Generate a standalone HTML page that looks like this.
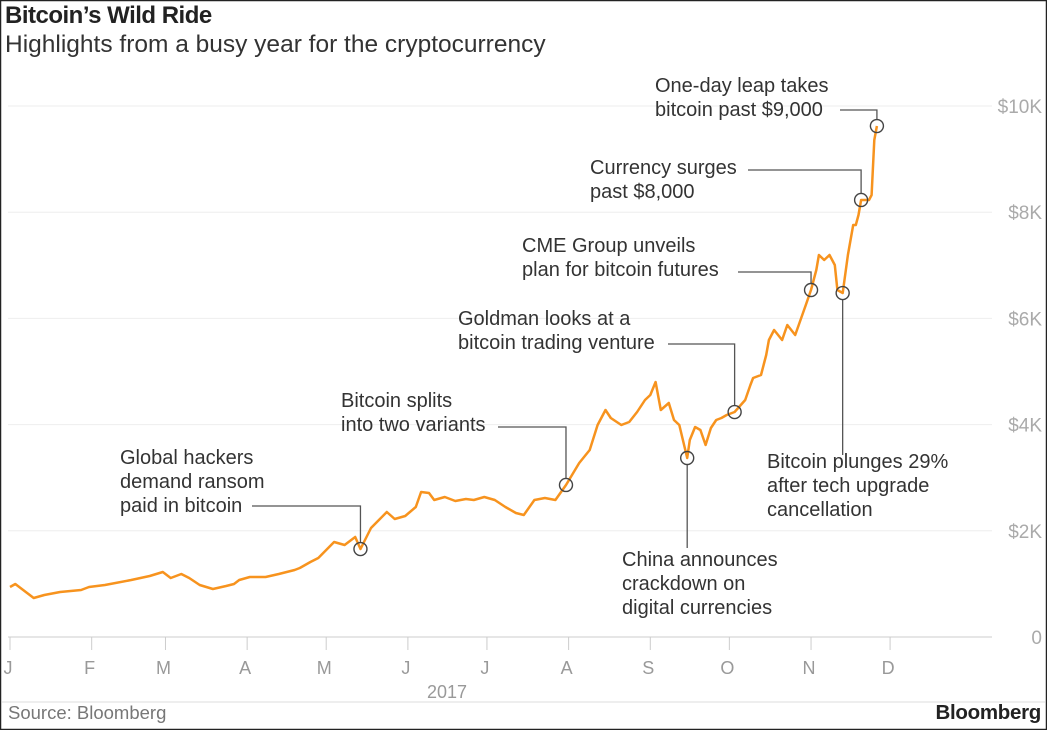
<!DOCTYPE html>
<html><head><meta charset="utf-8"><style>
html,body{margin:0;padding:0;background:#fff;}
body{width:1047px;height:730px;overflow:hidden;position:relative;font-family:"Liberation Sans",sans-serif;}
svg text{font-family:"Liberation Sans",sans-serif;}
</style></head><body>
<svg width="1047" height="730">
<rect x="0" y="0" width="1047" height="730" fill="#fff"/>
<rect x="0.5" y="0.5" width="1046" height="729" fill="none" stroke="#222" stroke-width="1.5"/>
<text x="5" y="23" font-size="24" font-weight="bold" fill="#222" letter-spacing="-0.5">Bitcoin’s Wild Ride</text>
<text x="5" y="52" font-size="24.5" fill="#333">Highlights from a busy year for the cryptocurrency</text>
<g id="grid"></g>
<g id="xaxis"></g>
<path id="line" fill="none" stroke="#f7931e" stroke-width="2.5" stroke-linejoin="round"/>
<g id="ann"></g>
<text x="447" y="698" font-size="18" fill="#999" text-anchor="middle">2017</text>
<line x1="2" y1="702" x2="1045" y2="702" stroke="#ddd"/>
<text x="8" y="719" font-size="18.5" fill="#777">Source: Bloomberg</text>
<text x="1041" y="719" font-size="20.5" font-weight="bold" fill="#222" text-anchor="end" letter-spacing="-0.3">Bloomberg</text>
</svg>
<script>
const days=[0,2,6,9,13,19,27,30,36,46,53,58,61,65,68,72,77,82,85,87,91,97,102,108,110,114,117,120,123,127,131,133,137,140,143,146,150,154,156,159,161,165,169,173,176,180,184,188,192,195,199,203,207,211,216,220,223,226,228,232,235,238,241,243,245,247,250,252,254,257,258,260,262,264,266,268,270,272,275,279,281,282,285,287,288,290,293,295,298,300,302,304,306,307,309,311,313,314,316,318,320,321,322,323,326,327,328,329];
const prices=[942,998,847,734,791,847,885,942,979,1073,1149,1224,1111,1186,1111,979,904,960,998,1073,1130,1130,1186,1262,1299,1412,1488,1638,1789,1733,1883,1657,2053,2203,2354,2222,2279,2448,2731,2712,2580,2637,2561,2599,2580,2637,2580,2448,2335,2298,2580,2618,2580,2863,3277,3522,3992,4275,4124,3992,4049,4237,4463,4557,4802,4275,4407,4087,3992,3371,3710,3955,3898,3616,3936,4087,4124,4181,4237,4463,4746,4878,4934,5311,5593,5782,5593,5876,5687,5970,6252,6535,6911,7194,7100,7194,7006,6535,6478,7194,7759,7759,7947,8230,8230,8324,9360,9623];
const yTicks=[0,2000,4000,6000,8000,10000];
const yTickLabels=["0","$2K","$4K","$6K","$8K","$10K"];
const monthStarts=[0,31,59,90,120,151,181,212,243,273,304,334];
const monthLabels=["J","F","M","A","M","J","J","A","S","O","N","D"];
const annDays=[133,211,257,275,304,316,323,329];
const annPrices=[1657,2863,3371,4237,6535,6478,8230,9623];
const annText=[["Global hackers","demand ransom","paid in bitcoin"],["Bitcoin splits","into two variants"],["China announces","crackdown on","digital currencies"],["Goldman looks at a","bitcoin trading venture"],["CME Group unveils","plan for bitcoin futures"],["Bitcoin plunges 29%","after tech upgrade","cancellation"],["Currency surges","past $8,000"],["One-day leap takes","bitcoin past $9,000"]];
const annLayout=[[120,464,506,252,0],[341,407,427,498,0],[622,566,548,0,1],[458,325,344,668,0],[522,252,272,738,0],[767,468,455,0,1],[590,174,170,748,0],[655,92,110,840,0]];
const xS=d=>10+d*2.635, yS=v=>637-v*0.0531;
const NS="http://www.w3.org/2000/svg";
function mk(tag,attrs,parent,txt){const e=document.createElementNS(NS,tag);for(const k in attrs)e.setAttribute(k,attrs[k]);if(txt!==undefined)e.textContent=txt;parent.appendChild(e);return e;}
const grid=document.getElementById('grid');
yTicks.forEach((t,i)=>{
  const y=yS(t);
  const l=mk('line',{x1:8,x2:992,y1:y,y2:y,stroke:i===0?'#ccc':'#eee','stroke-width':1},grid);
  
  
  const tx=mk('text',{x:1042,y:y+7,'font-size':19,fill:'#aaa','text-anchor':'end'},grid,yTickLabels[i]);
  
  
});
const xa=document.getElementById('xaxis');
monthStarts.forEach((d,i)=>{
  const x=xS(d);
  const l=mk('line',{x1:x,x2:x,y1:637,y2:650,stroke:'#ccc'},xa);
  
  
  const tx=mk('text',{x:x-2,y:674,'font-size':18,fill:'#999','text-anchor':'middle'},xa,monthLabels[i]);
  
  
});
document.getElementById('line').setAttribute('d',days.map((d,i)=>(i?'L':'M')+xS(d).toFixed(1)+','+yS(prices[i]).toFixed(1)).join(''));
const ann=document.getElementById('ann');
annDays.forEach((d,i)=>{
  const cx=xS(d),cy=yS(annPrices[i]);const L=annLayout[i];
  let pts;
  if(L[4]===0){pts=`${L[3]},${L[2]} ${cx},${L[2]} ${cx},${cy-7}`;}
  else{pts=`${cx},${cy+7} ${cx},${L[2]}`;}
  const pl=mk('polyline',{points:pts,fill:'none',stroke:'#555','stroke-width':1.3},ann);
  
  
  const c=mk('circle',{cx:cx,cy:cy,r:6.5,fill:'none',stroke:'#444','stroke-width':1.4},ann);
  
  
  annText[i].forEach((s,j)=>{
    const t=mk('text',{x:L[0],y:L[1]+j*24,'font-size':20,fill:'#333'},ann,s);
    
    
  });
});
</script>
</body></html>
